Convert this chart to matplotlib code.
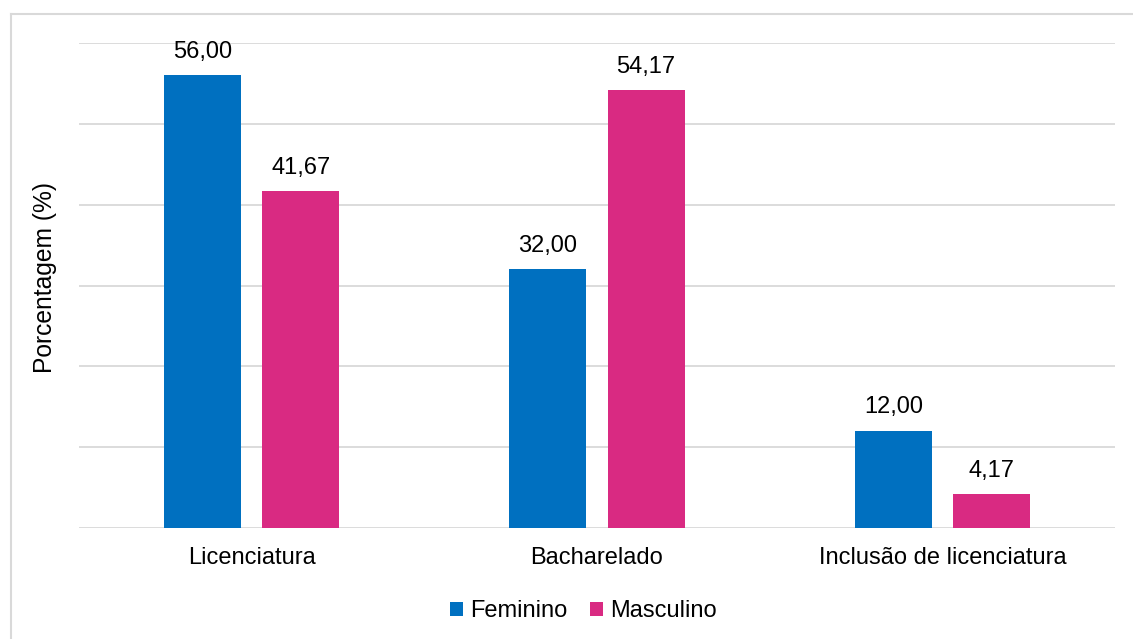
import matplotlib.pyplot as plt
from matplotlib.lines import Line2D
import numpy as np

categorias = ['Licenciatura', 'Bacharelado', 'Inclusão de licenciatura']
feminino = [56.00, 32.00, 12.00]
masculino = [41.67, 54.17, 4.17]
series = ['Feminino', 'Masculino']

plt.rcParams['font.family'] = ['Liberation Sans', 'DejaVu Sans']

fig = plt.figure(figsize=(11.33, 6.39), dpi=100)
ax = fig.add_axes([79 / 1133, 1 - 528 / 639, (1115 - 79) / 1133, (528 - 43) / 639])

x = np.arange(len(categorias))
w = 0.223
gap = 0.061
b1 = ax.bar(x - (w + gap) / 2, feminino, w, color='#0070C0', label=series[0], zorder=3)
b2 = ax.bar(x + (w + gap) / 2, masculino, w, color='#D92A82', label=series[1], zorder=3)

for bars, vals in [(b1, feminino), (b2, masculino)]:
    for b, v in zip(bars, vals):
        ax.annotate(f'{v:.2f}'.replace('.', ','), (b.get_x() + b.get_width() / 2, v),
                    xytext=(0, 9), textcoords='offset points', ha='center', va='bottom',
                    fontsize=17)

ax.set_ylim(0, 60)
ax.set_xlim(-0.5, 2.5)
ax.set_yticks(np.arange(0, 61, 10))
ax.set_yticklabels([])
ax.tick_params(axis='y', length=0)
ax.tick_params(axis='x', length=0, labelsize=17, pad=14)
ax.set_xticks(x)
ax.set_xticklabels(categorias)
ax.grid(axis='y', color='#D9D9D9', linewidth=1.3, zorder=0)
for s in ax.spines.values():
    s.set_visible(False)
ax.set_ylabel('Porcentagem (%)', fontsize=17.7, labelpad=12)
ax.yaxis.label.set_y(0.517)

ax.legend(loc='upper center', bbox_to_anchor=(0.487, -0.105), ncol=2, frameon=False,
          fontsize=17, handlelength=0.55, handleheight=0.55, handletextpad=0.3,
          columnspacing=0.95)

# borda do gráfico
fig.add_artist(Line2D([11 / 1133, 1], [1 - 14 / 639, 1 - 14 / 639], color='#D9D9D9', lw=1.5))
fig.add_artist(Line2D([11 / 1133, 11 / 1133], [0, 1 - 14 / 639], color='#D9D9D9', lw=1.5))

fig.savefig('out.png', dpi=100)
